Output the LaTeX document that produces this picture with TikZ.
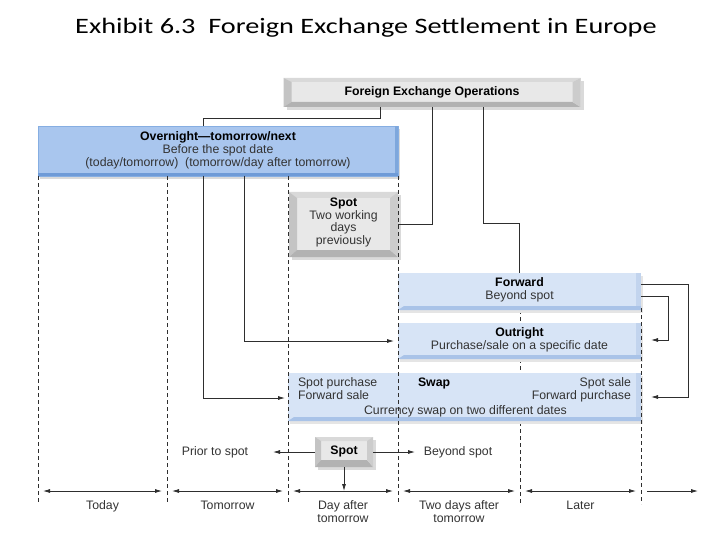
\documentclass[tikz,border=0pt]{standalone}
\usepackage{fontspec}
\setmainfont{Liberation Sans}
\newfontfamily\titlefont{Carlito}
\usetikzlibrary{arrows.meta,shadows}
\definecolor{ln}{HTML}{2E2E2E}
\definecolor{txt}{HTML}{333333}
\definecolor{gface}{HTML}{E8E8E8}
\definecolor{gtop}{HTML}{D9D9D9}
\definecolor{gleft}{HTML}{C4C4C4}
\definecolor{gbot}{HTML}{B2B2B2}
\definecolor{gright}{HTML}{CCCCCC}
\definecolor{bface}{HTML}{A9C6EE}
\definecolor{bedge}{HTML}{86AEE2}
\definecolor{bright}{HTML}{7EA7DC}
\definecolor{bbot}{HTML}{6F9BD7}
\definecolor{lface}{HTML}{D7E4F6}
\definecolor{lright}{HTML}{C2D4EE}
\definecolor{lbot}{HTML}{A9C3E8}
\definecolor{shad}{HTML}{DADADA}
\newcommand\fxbevel[9]{%
  \fill[#6] (#1.north west) -- (#1.north east) -- ([shift={(-#4,#3)}]#1.north east) -- ([shift={(#2,#3)}]#1.north west) -- cycle;
  \fill[#7] (#1.north west) -- ([shift={(#2,#3)}]#1.north west) -- ([shift={(#2,-#5)}]#1.south west) -- (#1.south west) -- cycle;
  \fill[#8] (#1.south west) -- ([shift={(#2,-#5)}]#1.south west) -- ([shift={(-#4,-#5)}]#1.south east) -- (#1.south east) -- cycle;
  \fill[#9] (#1.north east) -- (#1.south east) -- ([shift={(-#4,-#5)}]#1.south east) -- ([shift={(-#4,#3)}]#1.north east) -- cycle;
}
\begin{document}
\begin{tikzpicture}[x=1pt,y=-1pt,
  font=\fontsize{12.3}{13}\selectfont, text=txt,
  every node/.style={inner sep=0pt, outer sep=0pt},
  graybox/.style={fill=gface, align=center, general shadow={fill=shad, shadow xshift=3pt, shadow yshift=-3pt}},
  darkblue/.style={fill=bface, draw=bedge, line width=0.8pt, align=center, general shadow={fill=shad, shadow xshift=2pt, shadow yshift=-3pt}},
  lightblue/.style={fill=lface, align=center, general shadow={fill=shad!70, shadow xshift=2pt, shadow yshift=-3pt}},
  conn/.style={draw=ln, line width=0.8pt},
  arr/.style={conn, -{Latex[length=7pt,width=4pt]}},
  dbl/.style={conn, {Latex[length=7pt,width=4pt]}-{Latex[length=7pt,width=4pt]}, shorten <=5pt, shorten >=5pt},
  vdash/.style={draw=ln, line width=0.8pt, dash pattern=on 4pt off 3pt},
  lbl/.style={align=center, anchor=north},
  hd/.style={font=\fontsize{12.3}{13}\selectfont\bfseries, text=black}
]
\useasboundingbox (0,0) rectangle (720,540);

% title
\node[font=\titlefont\fontsize{22}{24}\selectfont, text=black, anchor=base] (title) at (366,34) {\scalebox{1.285}[1]{Exhibit 6.3\ \ Foreign Exchange Settlement in Europe}};

% dashed guide coordinates
\coordinate (d0t) at (38,176);  \coordinate (d0b) at (38,504);
\coordinate (d1t) at (167,176); \coordinate (d1b) at (167,504);
\coordinate (d2t) at (288,176); \coordinate (d2b) at (288,504);
\coordinate (d3t) at (398,176); \coordinate (d3b) at (398,504);
\coordinate (d4t) at (520,310); \coordinate (d4b) at (520,504);
\coordinate (d5t) at (641,308); \coordinate (d5b) at (641,504);

% dashed line behind the boxes
\draw[vdash] (d4t) -- (d4b);

% boxes
\node[graybox, minimum width=297pt, minimum height=29pt] (feo) at (432,92.5) {};
\fxbevel{feo}{8}{4}{8}{5}{gtop}{gleft}{gbot}{gright}
\node[hd] (feot) at (feo) {Foreign Exchange Operations};

\node[darkblue, minimum width=360pt, minimum height=50pt] (ov) at (218,151) {};
\fill[bright] ([shift={(-3,0)}]ov.north east) rectangle (ov.south east);
\fill[bbot] ([shift={(0,-3)}]ov.south west) rectangle (ov.south east);
\node[align=center] (ovt) at (218,150.5) {\textbf{\color{black}Overnight---tomorrow/next}\\Before the spot date\\(today/tomorrow)\ \ (tomorrow/day after tomorrow)};

\node[graybox, minimum width=109pt, minimum height=65pt] (spota) at (343.5,224.5) {};
\fxbevel{spota}{8}{6}{8}{7}{gtop}{gleft}{gbot}{gright}
\node[align=center, font=\fontsize{12.3}{12.5}\selectfont] (spotat) at (343.5,222.5) {\textbf{\color{black}Spot}\\Two working\\days\\previously};

\node[lightblue, minimum width=243pt, minimum height=37pt] (fwd) at (519.5,291.5) {};
\fill[lright] ([shift={(-5,0)}]fwd.north east) rectangle (fwd.south east);
\fill[lbot] ([shift={(6,-4)}]fwd.south west) -- ([shift={(0,-4)}]fwd.south east) -- (fwd.south east) -- (fwd.south west) -- cycle;
\node[align=center] (fwdt) at (519.5,289.5) {\textbf{\color{black}Forward}\\Beyond spot};

\node[lightblue, minimum width=243pt, minimum height=36pt] (out) at (519.5,341) {};
\fill[lright] ([shift={(-5,0)}]out.north east) rectangle (out.south east);
\fill[lbot] ([shift={(6,-4)}]out.south west) -- ([shift={(0,-4)}]out.south east) -- (out.south east) -- (out.south west) -- cycle;
\node[align=center] (outt) at (519.5,339.5) {\textbf{\color{black}Outright}\\Purchase/sale on a specific date};

\node[lightblue, minimum width=353pt, minimum height=48pt] (swap) at (464.5,397) {};
\fill[lright] ([shift={(-5,0)}]swap.north east) rectangle (swap.south east);
\fill[lbot] ([shift={(6,-4)}]swap.south west) -- ([shift={(0,-4)}]swap.south east) -- (swap.south east) -- (swap.south west) -- cycle;
\node[anchor=mid west] (sw1) at (298,384) {Spot purchase};
\node[anchor=mid west] (sw2) at (298,397) {Forward sale};
\node[hd, anchor=mid west] (sw3) at (418,384) {Swap};
\node[anchor=mid east] (sw4) at (631,384) {Spot sale};
\node[anchor=mid east] (sw5) at (631,397) {Forward purchase};
\node[anchor=mid] (sw6) at (465.5,412) {Currency swap on two different dates};

\node[graybox, minimum width=58pt, minimum height=30pt] (spotb) at (344,452) {};
\fxbevel{spotb}{6}{4}{6}{7}{gtop}{gleft}{gbot}{gright}
\node[hd] (spotbt) at (344,451) {Spot};

% dashed lines over the boxes
\draw[vdash] (d0t) -- (d0b);
\draw[vdash] (d1t) -- (d1b);
\draw[vdash] (d2t) -- (d2b);
\draw[vdash] (d3t) -- (d3b);
\draw[vdash] (d5t) -- (d5b);

% connectors from Foreign Exchange Operations
\draw[conn] ([xshift=-52pt]feo.south) -- ++(0,11) -| ([xshift=-15pt]ov.north);
\draw[conn] (feo.south) |- (spota.east);
\draw[conn] ([xshift=51pt]feo.south) -- ++(0,116) -| (fwd.north);

% connectors from Overnight
\draw[arr, shorten >=3pt] ([xshift=-15pt]ov.south) |- ([yshift=-1pt]swap.west);
\draw[arr, shorten >=4pt] ([xshift=26pt]ov.south) |- (out.west);

% connectors from Forward
\draw[arr, shorten >=10pt] ([yshift=7.5pt]fwd.east) -- ++(47,0) |- (swap.east);
\draw[arr, shorten >=10pt] ([yshift=-4.5pt]fwd.east) -- ++(27,0) |- ([yshift=1pt]out.east);

% bottom Spot
\coordinate (pl) at (273,452);
\coordinate (pr) at (415,452);
\coordinate (pd) at (344,491);
\draw[arr] (spotb.west) -- (pl);
\draw[arr] (spotb.east) -- (pr);
\draw[arr] (spotb.south) -- (pd);
\node[anchor=mid] (prior) at (215,453) {Prior to spot};
\node[anchor=mid] (beyond) at (458,453) {Beyond spot};

% timeline
\coordinate (t0) at (38,491);
\coordinate (t1) at (167,491);
\coordinate (t2) at (288,491);
\coordinate (t3) at (398,491);
\coordinate (t4) at (520,491);
\coordinate (t5) at (641,491);
\coordinate (t6) at (698,491);
\draw[dbl] (t0) -- (t1);
\draw[dbl] (t1) -- (t2);
\draw[dbl] (t2) -- (t3);
\draw[dbl] (t3) -- (t4);
\draw[dbl] (t4) -- (t5);
\draw[arr, shorten <=6pt] (t5) -- (t6);

\node[lbl] (today) at (102.5,501) {Today};
\node[lbl] (tomorrow) at (227.5,501) {Tomorrow};
\node[lbl] (dat) at (343,501) {Day after\\tomorrow};
\node[lbl] (tdat) at (459,501) {Two days after\\tomorrow};
\node[lbl] (later) at (580.5,501) {Later};
\end{tikzpicture}
\end{document}
